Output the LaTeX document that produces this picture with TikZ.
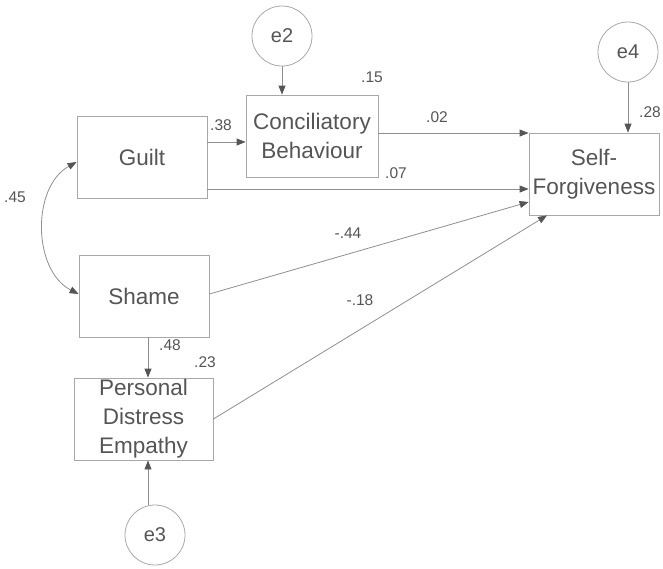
\documentclass[tikz,border=0pt]{standalone}
\usepackage{fontspec}
\setmainfont{Liberation Sans}
\usetikzlibrary{arrows.meta}
\definecolor{txt}{HTML}{555555}
\definecolor{ln}{HTML}{8E8E8E}
\definecolor{bx}{HTML}{A8A8A8}
\definecolor{tip}{HTML}{555555}
\begin{document}
\begin{tikzpicture}[x=1pt,y=-1pt,
  var/.style={draw=bx, line width=0.8pt, rectangle, inner sep=0pt,
    minimum width=130pt, minimum height=82pt, align=center, text=txt,
    font=\fontsize{22.5}{29}\selectfont},
  err/.style={draw=bx, line width=0.8pt, circle, inner sep=0pt,
    minimum size=60pt, text=txt, font=\fontsize{20}{24}\selectfont},
  coef/.style={text=txt, inner sep=0pt, font=\fontsize{15.5}{18}\selectfont},
  path/.style={draw=ln, line width=0.8pt,
    -{Triangle[length=9pt,width=7pt,fill=tip,color=tip]}},
  cov/.style={draw=ln, line width=0.8pt,
    {Triangle[length=9pt,width=7pt,fill=tip,color=tip]}-{Triangle[length=9pt,width=7pt,fill=tip,color=tip]}}]
\useasboundingbox (0,0) rectangle (663,568);

% observed variables
\node[var] (guilt) at (142,157) {Guilt};
\node[var, minimum width=132pt] (conc) at (312,136) {Conciliatory\\Behaviour};
\node[var] (sf) at (594,174) {Self-\\Forgiveness};
\node[var] (shame) at (144,296) {Shame};
\node[var, minimum width=139pt] (pde) at (143.5,419) {Personal\\Distress\\Empathy};

% error terms
\node[err] (e2) at (282,36) {e2};
\node[err] (e4) at (628,52) {e4};
\node[err] (e3) at (155,535) {e3};

% paths
\draw[path] (e2) -- (e2 |- conc.north);
\draw[path] (e4) -- (e4 |- sf.north);
\draw[path] ([xshift=-7pt]e3.north) -- ([xshift=-7pt]e3.north |- pde.south);
\draw[path] ([yshift=15pt]guilt.east) -- ([yshift=15pt]guilt.east -| conc.west);
\draw[path] ([yshift=3pt]conc.east) -- ([yshift=3pt]conc.east -| sf.west);
\draw[path] ([yshift=-32pt]guilt.east) -- ([yshift=-32pt]guilt.east -| sf.west);
\draw[path] ([yshift=2pt]shame.east) -- ([yshift=-28pt]sf.west);
\draw[path] (pde.east) -- ([xshift=-47pt]sf.south);
\draw[path] ([xshift=4pt]shame.south) -- ([xshift=4pt]shame.south |- pde.north);

% correlation between guilt and shame
\draw[cov] ([yshift=-5pt]guilt.west) to[bend right=62] ([yshift=2pt]shame.west);

% coefficients
\node[coef] (r15) at (372,77) {.15};
\node[coef] (b38) at (221,125) {.38};
\node[coef] (b02) at (437,117) {.02};
\node[coef] (b07) at (396,173) {.07};
\node[coef] (r28) at (650,112) {.28};
\node[coef] (c45) at (15,197) {.45};
\node[coef] (b44) at (348,233) {-.44};
\node[coef] (b18) at (360,300) {-.18};
\node[coef] (b48) at (170,345) {.48};
\node[coef] (r23) at (205,362) {.23};
\end{tikzpicture}
\end{document}
